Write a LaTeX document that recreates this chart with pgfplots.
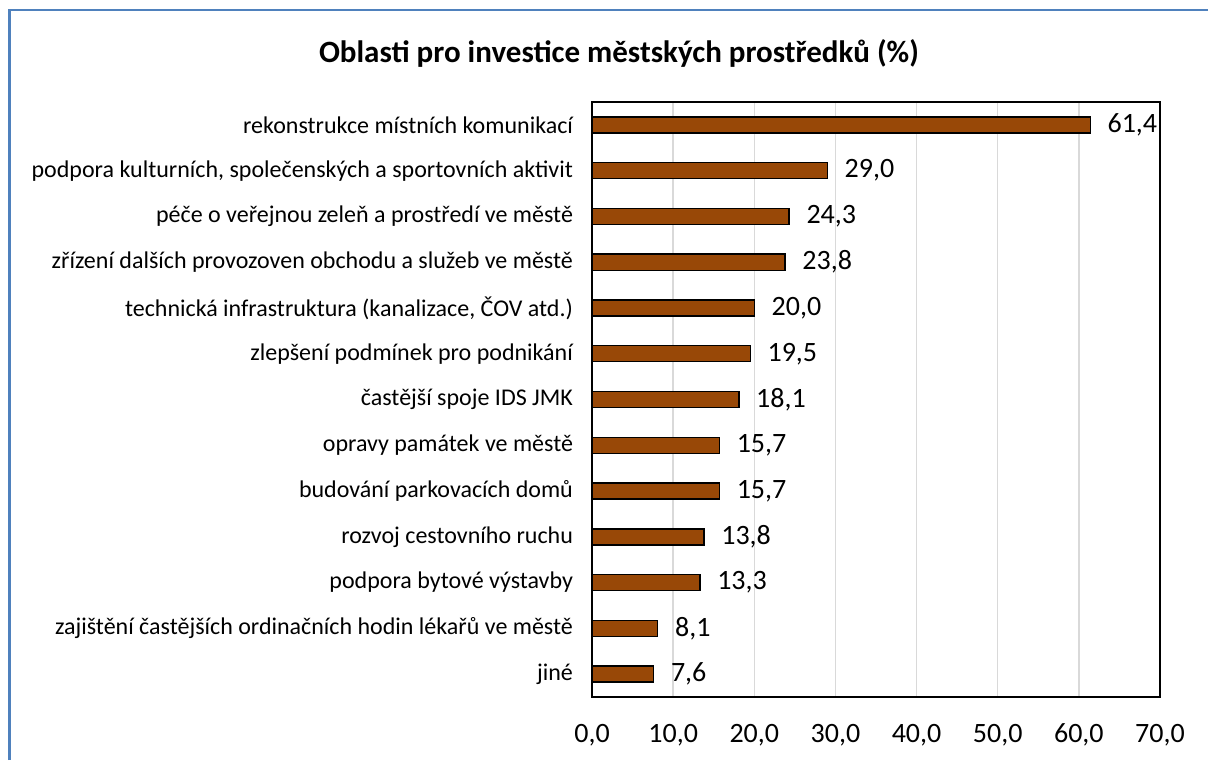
\documentclass[border=0pt]{standalone}
\usepackage{pgfplots}
\pgfplotsset{compat=1.18}
\usepackage{fontspec}
\setmainfont{Carlito}
\definecolor{barbrown}{HTML}{984807}
\definecolor{frameblue}{HTML}{4F81BD}
\definecolor{gridgray}{HTML}{D9D9D9}
\begin{document}
\begin{tikzpicture}
\path[use as bounding box] (0,0) rectangle (604pt,380pt);
\draw[frameblue, line width=1.2pt] (4.7pt,0) -- (4.7pt,375pt) -- (604pt,375pt);
\node[font=\fontsize{15.5}{18}\selectfont\bfseries] at (309.5pt,353.5pt) {Oblasti pro investice městských prostředků (\%)};
\begin{axis}[
  at={(296pt,31.5pt)}, anchor=south west,
  scale only axis,
  width=284pt, height=297.5pt,
  xbar, bar width=0.35,
  xmin=0, xmax=70,
  ymin=0.5, ymax=13.5,
  y dir=reverse,
  xtick={0,10,20,30,40,50,60,70},
  ytick={1,...,13},
  yticklabels={
    rekonstrukce místních komunikací,
    {podpora kulturních, společenských a sportovních aktivit},
    péče o veřejnou zeleň a prostředí ve městě,
    zřízení dalších provozoven obchodu a služeb ve městě,
    {technická infrastruktura (kanalizace, ČOV atd.)},
    zlepšení podmínek pro podnikání,
    častější spoje IDS JMK,
    opravy památek ve městě,
    budování parkovacích domů,
    rozvoj cestovního ruchu,
    podpora bytové výstavby,
    zajištění častějších ordinačních hodin lékařů ve městě,
    jiné},
  major tick length=0,
  xmajorgrids, grid style={gridgray, line width=0.7pt},
  axis line style={black, line width=0.6pt},
  /pgf/number format/assume math mode=true,
  xticklabels={{0,0},{10,0},{20,0},{30,0},{40,0},{50,0},{60,0},{70,0}},
  xticklabel style={font=\fontsize{14}{16}\selectfont, anchor=north, text height=10pt, text depth=2pt, yshift=-9pt},
  yticklabel style={font=\fontsize{12}{14}\selectfont, xshift=-6pt},
  nodes near coords,
  nodes near coords style={font=\fontsize{14}{16}\selectfont, xshift=5pt,
    /pgf/number format/.cd, fixed, fixed zerofill, precision=1, use comma, assume math mode=true},
]
\addplot[fill=barbrown, draw=black, line width=0.7pt] coordinates {
(61.4,1) (29.0,2) (24.3,3) (23.8,4) (20.0,5) (19.5,6) (18.1,7) (15.7,8) (15.7,9) (13.8,10) (13.3,11) (8.1,12) (7.6,13)};
\end{axis}
\end{tikzpicture}
\end{document}
